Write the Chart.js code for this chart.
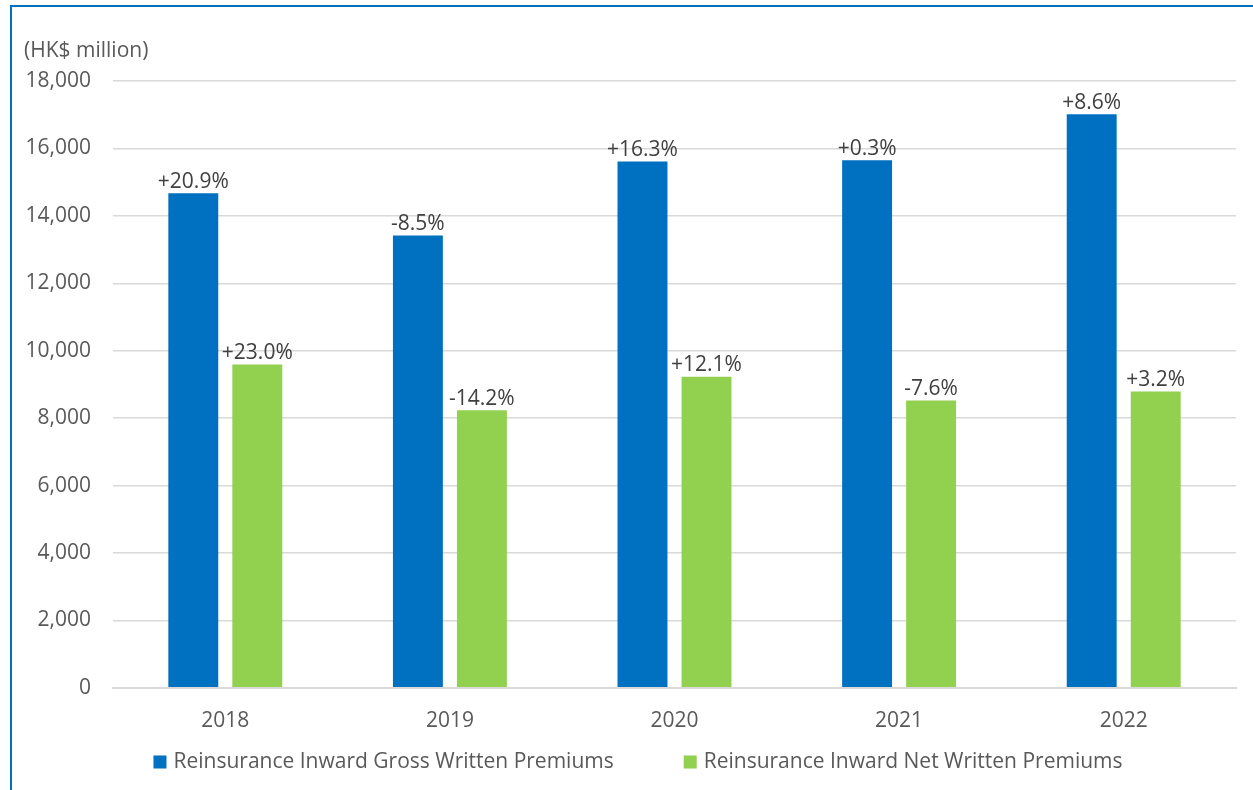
<!DOCTYPE html>
<html>
<head>
<meta charset="utf-8">
<script src="https://cdn.jsdelivr.net/npm/chart.js@4/dist/chart.umd.min.js"></script>
<style>
  html, body { margin: 0; padding: 0; background: #ffffff; }
  #wrap { position: relative; width: 1253px; height: 790px; }
  #frame { position: absolute; left: 10px; top: 5px; right: 0; bottom: 0; border-left: 2px solid #0070C0; border-top: 2px solid #0070C0; pointer-events: none; }
  canvas { position: absolute; left: 0; top: 0; }
</style>
</head>
<body>
<div id="wrap">
  <canvas id="c" width="1253" height="790"></canvas>
  <div id="frame"></div>
</div>
<script>
const categories = ['2018', '2019', '2020', '2021', '2022'];
const grossValues = [14670, 13420, 15610, 15650, 17010];
const netValues = [9590, 8230, 9230, 8520, 8790];
const grossLabels = ['+20.9%', '-8.5%', '+16.3%', '+0.3%', '+8.6%'];
const netLabels = ['+23.0%', '-14.2%', '+12.1%', '-7.6%', '+3.2%'];
const yTicks = [0, 2000, 4000, 6000, 8000, 10000, 12000, 14000, 16000, 18000];
const seriesNames = ['Reinsurance Inward Gross Written Premiums', 'Reinsurance Inward Net Written Premiums'];
const seriesColors = ['#0070C0', '#92D050'];
const unitLabel = '(HK$ million)';

const FONT = "'Open Sans', 'Noto Sans', sans-serif";
const TXT = '#595959';
const FS = 21;

const labelPlugin = {
  id: 'barLabels',
  afterDatasetsDraw(chart) {
    const ctx = chart.ctx;
    const sets = [grossLabels, netLabels];
    ctx.save();
    ctx.font = FS + "px " + FONT;
    ctx.fillStyle = '#404040';
    ctx.textAlign = 'center';
    ctx.textBaseline = 'bottom';
    chart.data.datasets.forEach((ds, i) => {
      const meta = chart.getDatasetMeta(i);
      meta.data.forEach((bar, j) => {
        ctx.fillText(sets[i][j], bar.x, bar.y - 1);
      });
    });
    ctx.restore();
  }
};

const unitPlugin = {
  id: 'unitLabel',
  afterDraw(chart) {
    const ctx = chart.ctx;
    ctx.save();
    ctx.font = FS + "px " + FONT;
    ctx.fillStyle = TXT;
    ctx.textAlign = 'left';
    ctx.textBaseline = 'middle';
    ctx.fillText(unitLabel, 24, 51);
    ctx.restore();
  }
};

const legendPlugin = {
  id: 'customLegend',
  afterDraw(chart) {
    const ctx = chart.ctx;
    const box = 13, gapText = 7, gapItem = 70, cy = 762;
    ctx.save();
    ctx.font = FS + "px " + FONT;
    ctx.textBaseline = 'middle';
    ctx.textAlign = 'left';
    const widths = chart.data.datasets.map(d => box + gapText + ctx.measureText(d.label).width);
    const total = widths.reduce((a, b) => a + b, 0) + gapItem * (widths.length - 1);
    let x = 638 - total / 2;
    chart.data.datasets.forEach((d, i) => {
      ctx.fillStyle = d.backgroundColor;
      ctx.fillRect(x, cy - box / 2, box, box);
      ctx.fillStyle = TXT;
      ctx.fillText(d.label, x + box + gapText, cy);
      x += widths[i] + gapItem;
    });
    ctx.restore();
  }
};

new Chart(document.getElementById('c'), {
  type: 'bar',
  data: {
    labels: categories,
    datasets: [
      { label: seriesNames[0], data: grossValues, backgroundColor: seriesColors[0], categoryPercentage: 0.57, barPercentage: 0.78 },
      { label: seriesNames[1], data: netValues, backgroundColor: seriesColors[1], categoryPercentage: 0.57, barPercentage: 0.78 }
    ]
  },
  options: {
    responsive: false,
    animation: false,
    devicePixelRatio: 1,
    layout: { padding: { left: 0, right: 17, top: 81, bottom: 43 } },
    plugins: {
      legend: { display: false },
      tooltip: { enabled: false }
    },
    scales: {
      x: {
        grid: { display: false },
        border: { display: true, color: '#d9d9d9', width: 2 },
        ticks: { font: { family: FONT, size: FS }, color: TXT, padding: 13 }
      },
      y: {
        min: 0,
        max: 18000,
        afterFit(scale) { scale.width = 113; },
        afterBuildTicks(scale) { scale.ticks = yTicks.map(v => ({ value: v })); },
        grid: { color: '#d9d9d9', lineWidth: 1.5, drawTicks: false },
        border: { display: false },
        ticks: {
          font: { family: FONT, size: FS },
          color: TXT,
          padding: 22,
          callback: (v) => v.toLocaleString('en-US')
        }
      }
    }
  },
  plugins: [labelPlugin, unitPlugin, legendPlugin]
});
</script>
</body>
</html>
